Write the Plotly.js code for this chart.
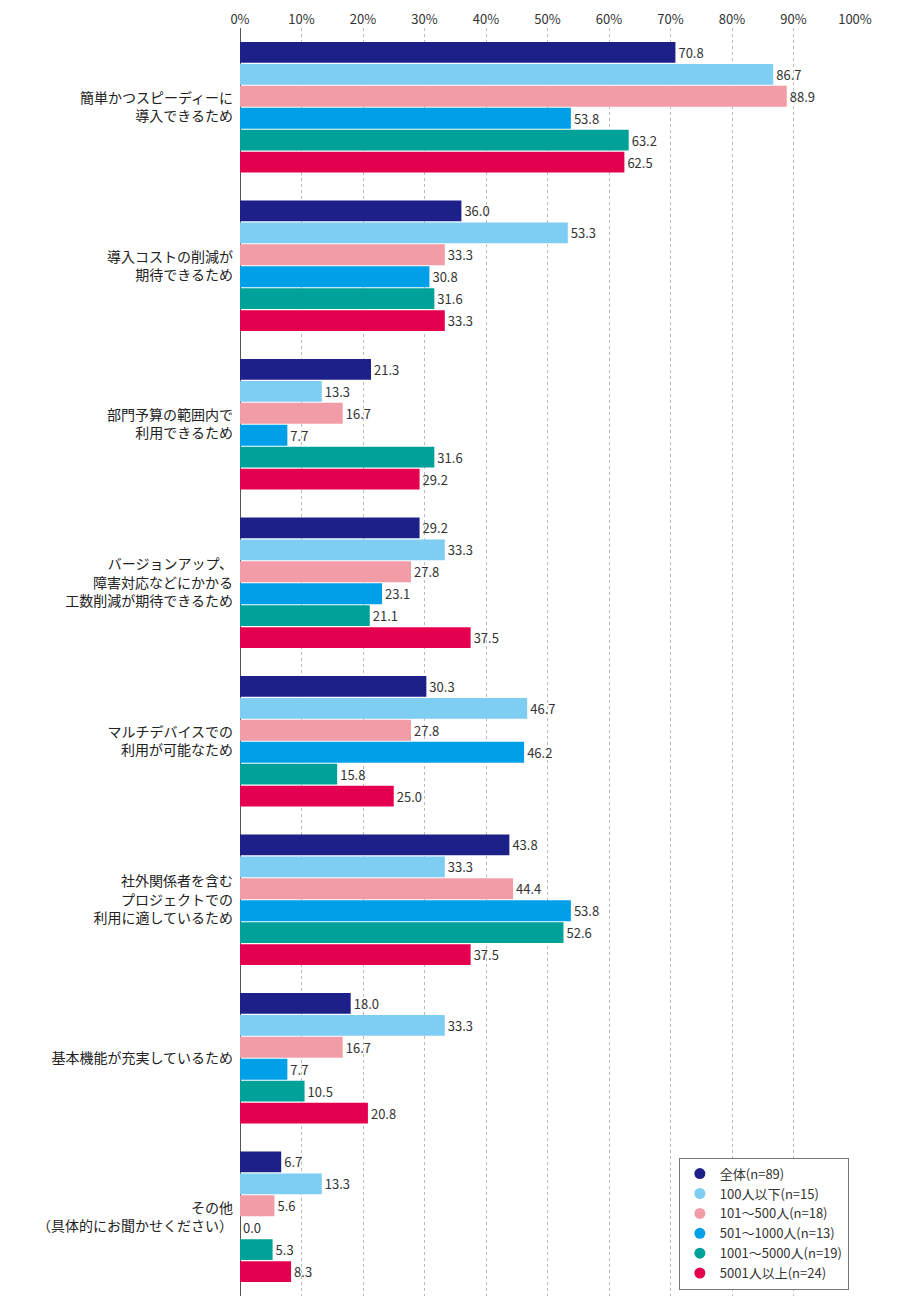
<!DOCTYPE html>
<html>
<head>
<meta charset="utf-8">
<script src="https://cdn.plot.ly/plotly-3.0.1.min.js"></script>
<style>body{margin:0;background:#fff}</style>
</head>
<body>
<div id="chart" style="width:900px;height:1300px"></div>
<script>
// -----------------------------
// Data
// -----------------------------
const categories = [
  "簡単かつスピーディーに<br>導入できるため",
  "導入コストの削減が<br>期待できるため",
  "部門予算の範囲内で<br>利用できるため",
  "バージョンアップ、<br>障害対応などにかかる<br>工数削減が期待できるため",
  "マルチデバイスでの<br>利用が可能なため",
  "社外関係者を含む<br>プロジェクトでの<br>利用に適しているため",
  "基本機能が充実しているため",
  "その他<br>（具体的にお聞かせください）"
];

const seriesNames = ["全体(n=89)", "100人以下(n=15)", "101～500人(n=18)", "501～1000人(n=13)", "1001～5000人(n=19)", "5001人以上(n=24)"];
const seriesColors = ["#1d2088", "#7ecef4", "#f19ca7", "#00a0e9", "#00a199", "#e5004f"];

const total    = [70.8, 36.0, 21.3, 29.2, 30.3, 43.8, 18.0, 6.7];
const upTo100  = [86.7, 53.3, 13.3, 33.3, 46.7, 33.3, 33.3, 13.3];
const s101_500 = [88.9, 33.3, 16.7, 27.8, 27.8, 44.4, 16.7, 5.6];
const s501_1k  = [53.8, 30.8, 7.7, 23.1, 46.2, 53.8, 7.7, 0.0];
const s1k_5k   = [63.2, 31.6, 31.6, 21.1, 15.8, 52.6, 10.5, 5.3];
const s5k      = [62.5, 33.3, 29.2, 37.5, 25.0, 37.5, 20.8, 8.3];
const seriesValues = [total, upTo100, s101_500, s501_1k, s1k_5k, s5k];

// -----------------------------
// Traces
// -----------------------------
const traces = [];
seriesValues.forEach((vals, i) => {
  traces.push({
    type: "bar",
    orientation: "h",
    x: vals,
    y: categories,
    name: seriesNames[i],
    marker: { color: seriesColors[i] },
    text: vals.map(v => v.toFixed(1)),
    textposition: "outside",
    textfont: { size: 13, color: "#333" },
    cliponaxis: false,
    showlegend: false,
    hoverinfo: "x"
  });
});
// legend entries with round markers
seriesValues.forEach((vals, i) => {
  traces.push({
    type: "scatter",
    mode: "markers",
    x: [null],
    y: [categories[0]],
    name: seriesNames[i],
    marker: { color: seriesColors[i], size: 11, symbol: "circle" },
    hoverinfo: "skip"
  });
});

const layout = {
  paper_bgcolor: "#fff",
  plot_bgcolor: "#fff",
  margin: { l: 240, r: 45, t: 28, b: 4 },
  font: { family: "Noto Sans CJK JP, sans-serif", size: 13, color: "#333" },
  barmode: "group",
  bargap: 0.17,
  bargroupgap: 0.05,
  xaxis: {
    side: "top",
    range: [0, 100],
    dtick: 10,
    ticksuffix: "%",
    showgrid: true,
    gridcolor: "#bbb",
    griddash: "dot",
    zeroline: true,
    zerolinecolor: "#555",
    zerolinewidth: 1,
    showline: false,
    ticks: "",
    fixedrange: true
  },
  yaxis: {
    type: "category",
    autorange: "reversed",
    ticks: "",
    ticklabelstandoff: 6,
    showline: false,
    tickfont: { size: 14, color: "#222" },
    fixedrange: true
  },
  legend: {
    x: 0.99, y: 0.005,
    xanchor: "right", yanchor: "bottom",
    bgcolor: "#fff",
    bordercolor: "#777",
    borderwidth: 1,
    font: { size: 13 },
    itemwidth: 30,
    tracegroupgap: 2
  },
  showlegend: true
};

Plotly.newPlot("chart", traces, layout, { displayModeBar: false, responsive: true });
</script>
</body>
</html>
